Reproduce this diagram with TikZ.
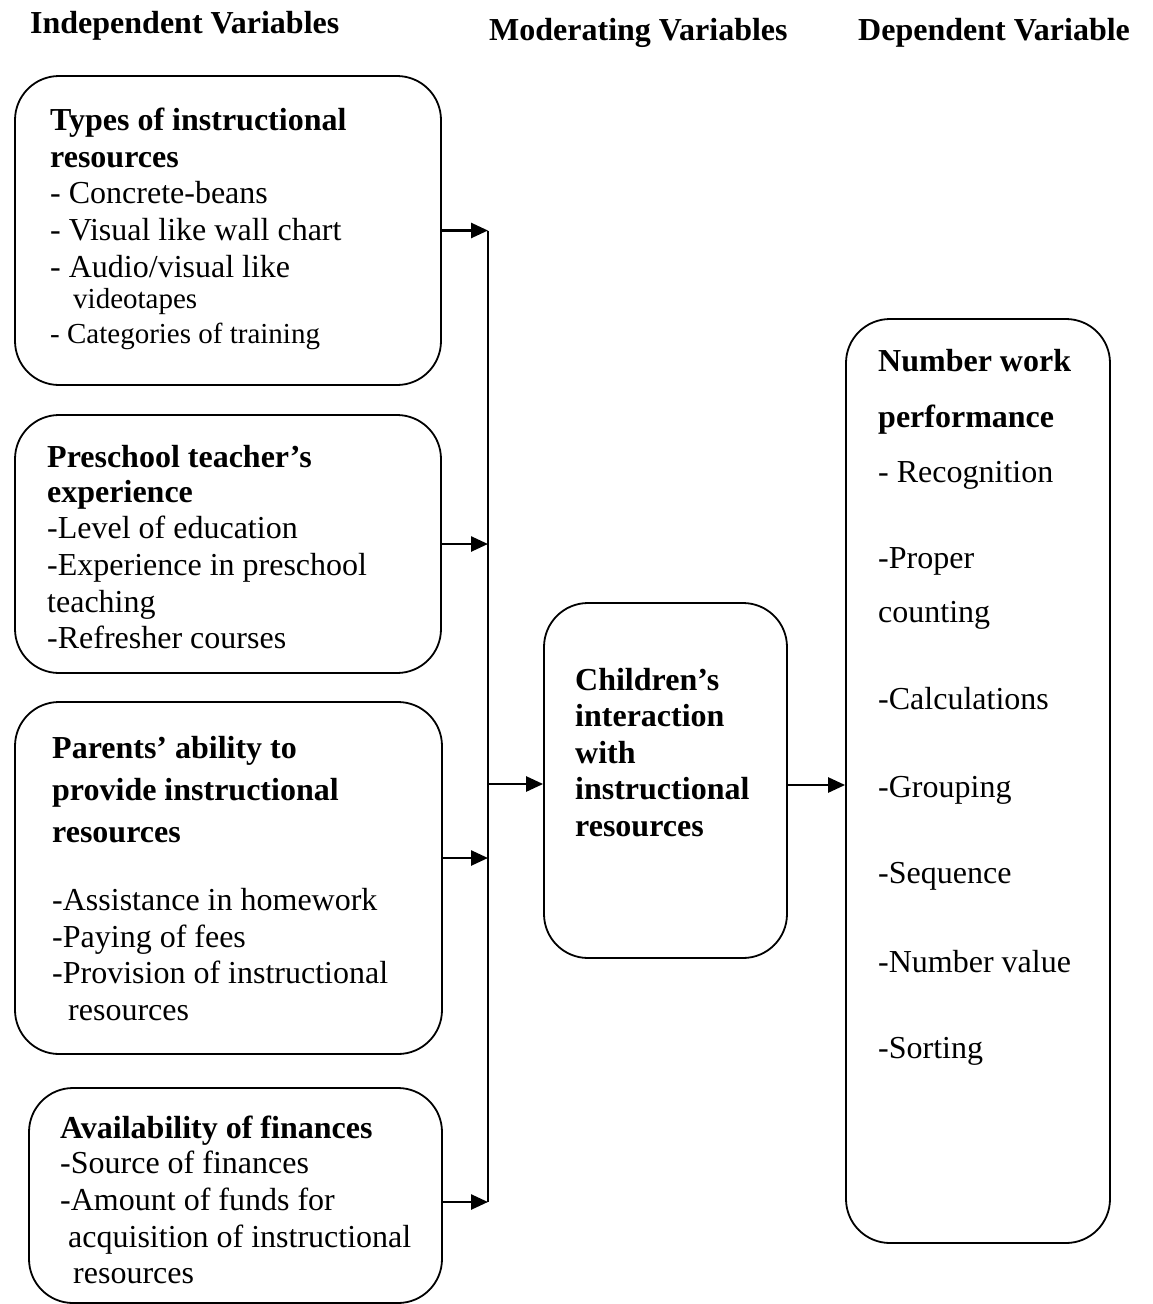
\documentclass[tikz,border=0pt]{standalone}
\usepackage{fontspec}
\setmainfont{Liberation Serif}
\usetikzlibrary{arrows.meta}
\tikzset{
  box/.style={draw, line width=1.8pt, rounded corners=44pt, inner sep=0pt},
  arr/.style={line width=2.6pt, -{Triangle[length=17pt,width=15pt]}},
  bus/.style={line width=2.4pt},
  tx/.style={anchor=base west, inner sep=0pt, font=\fontsize{32}{37}\selectfont},
  txs/.style={anchor=base west, inner sep=0pt, font=\fontsize{29}{35}\selectfont},
  hd/.style={anchor=base west, inner sep=0pt, font=\fontsize{32}{37}\selectfont\bfseries},
}
\begin{document}
\begin{tikzpicture}[x=1pt,y=-1pt]
\useasboundingbox (0,0) rectangle (1152,1304);

% headers
\node[hd] (h1) at (30,33) {Independent Variables};
\node[hd] (h2) at (489,40) {Moderating Variables};
\node[hd] (h3) at (858,40) {Dependent Variable};

% boxes
\node[box, minimum width=426pt, minimum height=309pt] (b1) at (228,230.5) {};
\node[box, minimum width=426pt, minimum height=258pt] (b2) at (228,544) {};
\node[box, minimum width=427pt, minimum height=352pt] (b3) at (228.5,878) {};
\node[box, minimum width=413pt, minimum height=215pt] (b4) at (235.5,1195.5) {};
\node[box, minimum width=243pt, minimum height=355pt] (bm) at (665.5,780.5) {};
\node[box, minimum width=264pt, minimum height=924pt] (bd) at (978,781) {};

% box 1 text
\node[hd] (t1a) at (50,130) {Types of instructional};
\node[hd] (t1b) at (50,167) {resources};
\node[tx] (t1c) at (50,203) {- Concrete-beans};
\node[tx] (t1d) at (50,240) {- Visual like wall chart};
\node[tx] (t1e) at (50,277) {- Audio/visual like};
\node[txs] (t1f) at (73,308) {videotapes};
\node[txs] (t1g) at (50,343) {- Categories of training};

% box 2 text
\node[hd] (t2a) at (47,467) {Preschool teacher’s};
\node[hd] (t2b) at (47,502) {experience};
\node[tx] (t2c) at (47,538) {-Level of education};
\node[tx] (t2d) at (47,575) {-Experience in preschool};
\node[tx] (t2e) at (47,612) {teaching};
\node[tx] (t2f) at (47,648) {-Refresher courses};

% box 3 text
\node[hd] (t3a) at (52,758) {Parents’ ability to};
\node[hd] (t3b) at (52,800) {provide instructional};
\node[hd] (t3c) at (52,842) {resources};
\node[tx] (t3d) at (52,910) {-Assistance in homework};
\node[tx] (t3e) at (52,947) {-Paying of fees};
\node[tx] (t3f) at (52,983) {-Provision of instructional};
\node[tx] (t3g) at (68,1020) {resources};

% box 4 text
\node[hd] (t4a) at (60,1138) {Availability of finances};
\node[tx] (t4b) at (60,1173) {-Source of finances};
\node[tx] (t4c) at (60,1210) {-Amount of funds for};
\node[tx] (t4d) at (68,1247) {acquisition of instructional};
\node[tx] (t4e) at (73,1283) {resources};

% middle box text
\node[hd] (tma) at (575,690) {Children’s};
\node[hd] (tmb) at (575,726.5) {interaction};
\node[hd] (tmc) at (575,763) {with};
\node[hd] (tmd) at (575,799.5) {instructional};
\node[hd] (tme) at (575,836) {resources};

% dependent box text
\node[hd] (tda) at (878,371) {Number work};
\node[hd] (tdb) at (878,427) {performance};
\node[tx] (tdc) at (878,482) {- Recognition};
\node[tx] (tdd) at (878,568) {-Proper};
\node[tx] (tde) at (878,622) {counting};
\node[tx] (tdf) at (878,709) {-Calculations};
\node[tx] (tdg) at (878,797) {-Grouping};
\node[tx] (tdh) at (878,883) {-Sequence};
\node[tx] (tdi) at (878,972) {-Number value};
\node[tx] (tdj) at (878,1058) {-Sorting};

% bus and connectors
\coordinate (j1) at (488,230.5);
\coordinate (j2) at (488,544);
\coordinate (j3) at (488,858);
\coordinate (j4) at (488,1202);
\coordinate (jm) at (488,784);
\draw[bus] (j1) -- (j4);
\draw[arr] (b1.east) -- (j1);
\draw[arr] (b2.east) -- (j2);
\draw[arr] (b3.east |- j3) -- (j3);
\draw[arr] (b4.east |- j4) -- (j4);
\draw[arr] (jm) -- (bm.west |- jm);
\draw[arr] (bm.east |- 0,785) -- (bd.west |- 0,785);
\end{tikzpicture}
\end{document}
